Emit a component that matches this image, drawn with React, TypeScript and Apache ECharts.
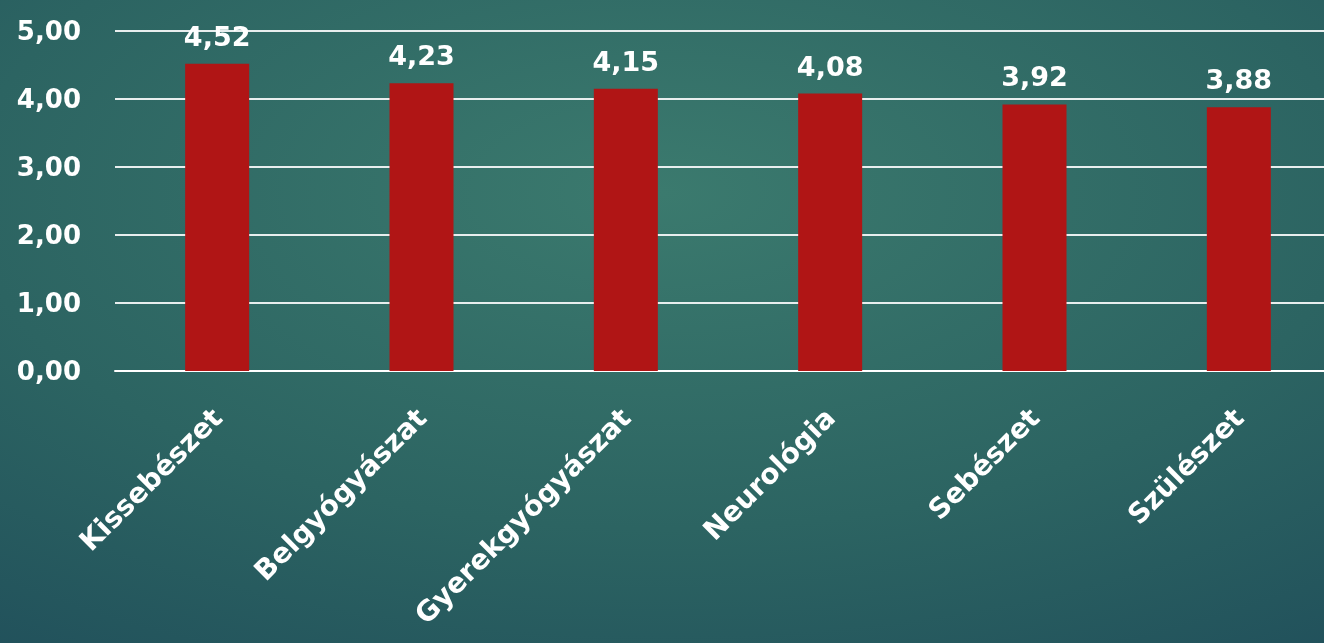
import React, { useEffect, useRef } from "react";
import * as echarts from "echarts";

const categories = ["Kissebészet", "Belgyógyászat", "Gyerekgyógyászat", "Neurológia", "Sebészet", "Szülészet"];
const values = [4.52, 4.23, 4.15, 4.08, 3.92, 3.88];
const yTicks = [0, 1, 2, 3, 4, 5];

const fmt = (v: number) => v.toFixed(2).replace(".", ",");

export default function App() {
  const ref = useRef<HTMLDivElement>(null);
  useEffect(() => {
    if (!ref.current) return;
    const chart = echarts.init(ref.current, null, { renderer: "svg" });
    const font = "DejaVu Sans";
    chart.setOption({
      animation: false,
      backgroundColor: {
        type: "radial",
        x: 0.5,
        y: 0.3,
        r: 0.95,
        colorStops: [
          { offset: 0, color: "#3b7a6e" },
          { offset: 0.55, color: "#2c6462" },
          { offset: 1, color: "#1f4d5a" },
        ],
      },
      grid: { left: 115, width: 1226, top: 31, height: 340, containLabel: false, outerBoundsMode: "none" },
      xAxis: {
        type: "category",
        data: categories,
        axisLine: { show: true, lineStyle: { color: "#ffffff", width: 2 } },
        axisTick: { show: false },
        axisLabel: {
          rotate: 45,
          interval: 0,
          margin: 42,
          color: "#ffffff",
          fontFamily: font,
          fontWeight: "bold",
          fontSize: 28,
        },
      },
      yAxis: {
        type: "value",
        min: 0,
        max: yTicks[yTicks.length - 1],
        interval: 1,
        axisLine: { show: false },
        axisTick: { show: false },
        splitLine: { lineStyle: { color: "#e8eeee", width: 2 } },
        axisLabel: {
          color: "#ffffff",
          fontFamily: font,
          fontWeight: "bold",
          fontSize: 26,
          margin: 34,
          formatter: (v: number) => fmt(v),
        },
      },
      series: [
        {
          type: "bar",
          data: values,
          barWidth: 64,
          itemStyle: { color: "#b01515" },
          label: {
            show: true,
            position: "top",
            distance: 14,
            color: "#ffffff",
            fontFamily: font,
            fontWeight: "bold",
            fontSize: 27,
            formatter: (p: any) => fmt(p.value),
          },
        },
      ],
    });
    return () => chart.dispose();
  }, []);
  return <div ref={ref} style={{ width: 1324, height: 643, position: "fixed", left: 0, top: 0 }} />;
}
